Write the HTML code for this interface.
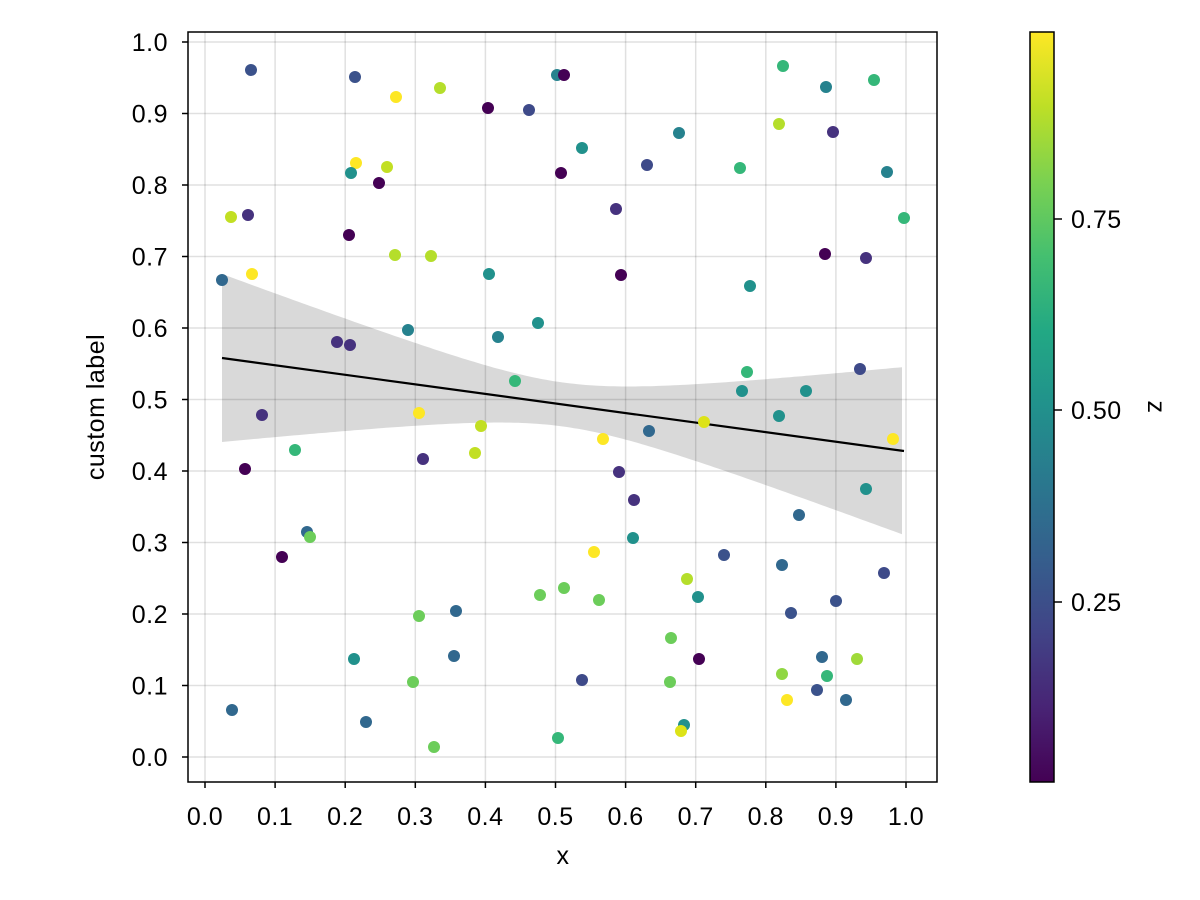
<!DOCTYPE html>
<html><head><meta charset="utf-8"><style>body{margin:0;background:#fff}svg{display:block}text{font-family:"Liberation Sans",sans-serif;font-size:25px;fill:#000;letter-spacing:0.5px}</style></head>
<body>
<svg width="1200" height="900" viewBox="0 0 1200 900" xmlns="http://www.w3.org/2000/svg">
<defs><linearGradient id="vir" x1="0" y1="1" x2="0" y2="0">
<stop offset="0" stop-color="#440154"/><stop offset="0.1" stop-color="#482475"/><stop offset="0.2" stop-color="#414487"/><stop offset="0.3" stop-color="#355f8d"/><stop offset="0.4" stop-color="#2a788e"/><stop offset="0.5" stop-color="#21918c"/><stop offset="0.6" stop-color="#22a884"/><stop offset="0.7" stop-color="#44bf70"/><stop offset="0.8" stop-color="#7ad151"/><stop offset="0.9" stop-color="#bddf26"/><stop offset="1" stop-color="#fde725"/></linearGradient></defs>
<g stroke="#000" stroke-opacity="0.12" stroke-width="1.5">
<line x1="205" y1="32" x2="205" y2="782"/><line x1="275.1" y1="32" x2="275.1" y2="782"/><line x1="345.2" y1="32" x2="345.2" y2="782"/><line x1="415.3" y1="32" x2="415.3" y2="782"/><line x1="485.4" y1="32" x2="485.4" y2="782"/><line x1="555.5" y1="32" x2="555.5" y2="782"/><line x1="625.6" y1="32" x2="625.6" y2="782"/><line x1="695.7" y1="32" x2="695.7" y2="782"/><line x1="765.8" y1="32" x2="765.8" y2="782"/><line x1="835.9" y1="32" x2="835.9" y2="782"/><line x1="906" y1="32" x2="906" y2="782"/>
<line x1="188" y1="757" x2="937" y2="757"/><line x1="188" y1="685.5" x2="937" y2="685.5"/><line x1="188" y1="614" x2="937" y2="614"/><line x1="188" y1="542.5" x2="937" y2="542.5"/><line x1="188" y1="471" x2="937" y2="471"/><line x1="188" y1="399.5" x2="937" y2="399.5"/><line x1="188" y1="328" x2="937" y2="328"/><line x1="188" y1="256.5" x2="937" y2="256.5"/><line x1="188" y1="185" x2="937" y2="185"/><line x1="188" y1="113.5" x2="937" y2="113.5"/><line x1="188" y1="42" x2="937" y2="42"/>
</g>
<path id="band" fill="#000" fill-opacity="0.15"/>
<line x1="222" y1="358" x2="904" y2="451" stroke="#000" stroke-width="2.2"/>
<g id="pts"></g>
<rect x="188" y="32" width="749" height="750" fill="none" stroke="#000" stroke-width="1.5"/>
<g stroke="#000" stroke-width="1.5">
<line x1="205" y1="782" x2="205" y2="788"/><line x1="275.1" y1="782" x2="275.1" y2="788"/><line x1="345.2" y1="782" x2="345.2" y2="788"/><line x1="415.3" y1="782" x2="415.3" y2="788"/><line x1="485.4" y1="782" x2="485.4" y2="788"/><line x1="555.5" y1="782" x2="555.5" y2="788"/><line x1="625.6" y1="782" x2="625.6" y2="788"/><line x1="695.7" y1="782" x2="695.7" y2="788"/><line x1="765.8" y1="782" x2="765.8" y2="788"/><line x1="835.9" y1="782" x2="835.9" y2="788"/><line x1="906" y1="782" x2="906" y2="788"/>
<line x1="182" y1="757" x2="188" y2="757"/><line x1="182" y1="685.5" x2="188" y2="685.5"/><line x1="182" y1="614" x2="188" y2="614"/><line x1="182" y1="542.5" x2="188" y2="542.5"/><line x1="182" y1="471" x2="188" y2="471"/><line x1="182" y1="399.5" x2="188" y2="399.5"/><line x1="182" y1="328" x2="188" y2="328"/><line x1="182" y1="256.5" x2="188" y2="256.5"/><line x1="182" y1="185" x2="188" y2="185"/><line x1="182" y1="113.5" x2="188" y2="113.5"/><line x1="182" y1="42" x2="188" y2="42"/>
<line x1="1054" y1="602" x2="1062" y2="602"/><line x1="1054" y1="410" x2="1062" y2="410"/><line x1="1054" y1="219" x2="1062" y2="219"/>
</g>
<g text-anchor="middle">
<text x="205" y="825">0.0</text><text x="275.1" y="825">0.1</text><text x="345.2" y="825">0.2</text><text x="415.3" y="825">0.3</text><text x="485.4" y="825">0.4</text><text x="555.5" y="825">0.5</text><text x="625.6" y="825">0.6</text><text x="695.7" y="825">0.7</text><text x="765.8" y="825">0.8</text><text x="835.9" y="825">0.9</text><text x="906" y="825">1.0</text>
<text x="563" y="864">x</text>
</g>
<g text-anchor="end">
<text x="168" y="766">0.0</text><text x="168" y="694.5">0.1</text><text x="168" y="623">0.2</text><text x="168" y="551.5">0.3</text><text x="168" y="480">0.4</text><text x="168" y="408.5">0.5</text><text x="168" y="337">0.6</text><text x="168" y="265.5">0.7</text><text x="168" y="194">0.8</text><text x="168" y="122.5">0.9</text><text x="168" y="51">1.0</text>
</g>
<text transform="translate(104,407) rotate(-90)" text-anchor="middle">custom label</text>
<rect x="1030" y="32" width="24" height="750" fill="url(#vir)"/>
<rect x="1030" y="32" width="24" height="750" fill="none" stroke="#000" stroke-width="1.5"/>
<text x="1071" y="611">0.25</text><text x="1071" y="419">0.50</text><text x="1071" y="228">0.75</text>
<text transform="translate(1148,407) rotate(90)" text-anchor="middle">z</text>
</svg>
<script>
var P=[[251,70,"#3b528b"],[355,77,"#3b528b"],[440,88,"#b5de2b"],[396,97,"#fde725"],[488,108,"#440154"],[529,110,"#3e4a89"],[557,75,"#26828e"],[564,75,"#440154"],[783,66,"#35b779"],[874,80,"#35b779"],[826,87,"#26828e"],[582,148,"#21918c"],[679,133,"#26828e"],[647,165,"#3e4a89"],[561,173,"#440154"],[740,168,"#35b779"],[779,124,"#b5de2b"],[833,132,"#46327e"],[887,172,"#26828e"],[356,163,"#fde725"],[387,167,"#c2df23"],[351,173,"#21918c"],[379,183,"#440154"],[231,217,"#c2df23"],[248,215,"#46327e"],[616,209,"#46327e"],[904,218,"#35b779"],[349,235,"#440154"],[395,255,"#b5de2b"],[431,256,"#b5de2b"],[252,274,"#fde725"],[489,274,"#21918c"],[621,275,"#440154"],[222,280,"#31688e"],[750,286,"#21918c"],[825,254,"#440154"],[866,258,"#46327e"],[408,330,"#26828e"],[538,323,"#21918c"],[498,337,"#26828e"],[337,342,"#46327e"],[350,345,"#46327e"],[515,381,"#35b779"],[747,372,"#35b779"],[742,391,"#21918c"],[806,391,"#21918c"],[860,369,"#3e4a89"],[262,415,"#46327e"],[419,413,"#fde725"],[481,426,"#c2df23"],[779,416,"#21918c"],[649,431,"#31688e"],[603,439,"#fde725"],[704,422,"#dde318"],[475,453,"#c2df23"],[893,439,"#fde725"],[295,450,"#35b779"],[423,459,"#46327e"],[245,469,"#440154"],[619,472,"#46327e"],[634,500,"#46327e"],[866,489,"#21918c"],[307,532,"#31688e"],[310,537,"#6ccd5a"],[282,557,"#440154"],[799,515,"#31688e"],[633,538,"#21918c"],[594,552,"#fde725"],[724,555,"#3b528b"],[782,565,"#31688e"],[884,573,"#3e4a89"],[687,579,"#b5de2b"],[698,597,"#21918c"],[540,595,"#6ccd5a"],[564,588,"#6ccd5a"],[599,600,"#6ccd5a"],[456,611,"#31688e"],[419,616,"#6ccd5a"],[791,613,"#3b528b"],[836,601,"#3b528b"],[354,659,"#21918c"],[454,656,"#31688e"],[671,638,"#6ccd5a"],[699,659,"#440154"],[413,682,"#6ccd5a"],[582,680,"#3e4a89"],[670,682,"#6ccd5a"],[782,674,"#90d743"],[827,676,"#35b779"],[857,659,"#a0da39"],[822,657,"#31688e"],[817,690,"#3b528b"],[232,710,"#31688e"],[366,722,"#31688e"],[434,747,"#6ccd5a"],[558,738,"#35b779"],[684,725,"#21918c"],[681,731,"#dde318"],[787,700,"#fde725"],[846,700,"#31688e"]];
var g=document.getElementById("pts"),s="";
P.forEach(function(p){s+='<circle cx="'+p[0]+'" cy="'+p[1]+'" r="6" fill="'+p[2]+'"/>';});
g.innerHTML=s;
var up=[],lo=[];
for(var x=222;x<=904;x+=4){var y=358+(x-222)*93/682;var d=x-563;var h=Math.sqrt(484+0.0565*d*d);up.push(x+","+(y-h).toFixed(1));lo.unshift(x+","+(y+h).toFixed(1));}
document.getElementById("band").setAttribute("d","M"+up.join(" L")+" L"+lo.join(" L")+" Z");
</script>
</body></html>
